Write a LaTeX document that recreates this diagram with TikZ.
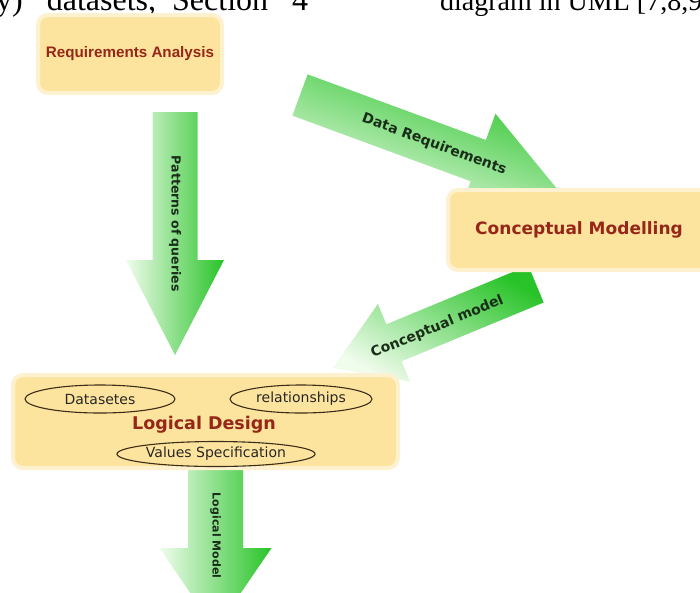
\documentclass[tikz,border=0pt]{standalone}
\usepackage{fontspec}
\setmainfont{DejaVu Sans}
\newfontfamily\paperfont{Liberation Serif}
\newfontfamily\narrowfont{Liberation Sans}
\usetikzlibrary{calc,shapes.geometric,backgrounds}

\definecolor{boxfill}{RGB}{253,228,158}
\definecolor{boxglow}{RGB}{254,241,208}
\definecolor{titlered}{RGB}{150,38,24}
\definecolor{arrowgreen}{RGB}{40,195,40}
\definecolor{arrowpale}{RGB}{240,252,236}
\definecolor{ovalline}{RGB}{60,45,25}
\definecolor{lbltext}{RGB}{25,45,25}

% fat arrow: [shading] {tail}{tip}{shaft half width}{head half width}{head length}
\newcommand\fatarrow[6][]{%
  \coordinate (#2-base) at ($(#3)!#6!(#2)$);
  \shade[arrowfill,#1] ($(#2)!#4!90:(#3)$) -- ($(#2-base)!#4!90:(#3)$)
    -- ($(#2-base)!#5!90:(#3)$) -- (#3) -- ($(#2-base)!#5!-90:(#3)$)
    -- ($(#2-base)!#4!-90:(#3)$) -- ($(#2)!#4!-90:(#3)$) -- cycle;
}

\begin{document}
\begin{tikzpicture}[x=1pt,y=-1pt,
  box/.style={rectangle, rounded corners=10pt, fill=boxfill, draw=boxglow,
    line width=4pt, outer sep=0pt, text=titlered},
  oval/.style={ellipse, draw=ovalline, line width=1.1pt, inner sep=0pt,
    font=\fontsize{14}{16}\selectfont, text=black!85},
  arrowfill/.style={top color=arrowgreen, bottom color=arrowpale},
  arrowlbl/.style={font=\bfseries\fontsize{#1}{#1}\selectfont, text=lbltext, inner sep=0pt},
  arrowlbl/.default=13,
  pagetxt/.style={anchor=base west, inner sep=0pt, font=\paperfont\fontsize{32}{38}\selectfont},
]
\useasboundingbox (0,0) rectangle (700,592);
\clip (0,0) rectangle (700,592);

%% cut-off line of the page above
\node[pagetxt] (pagel) at (-4,10) {y)\hspace{24pt}datasets,\hspace{16pt}Section\hspace{24pt}4};
\node[pagetxt, font=\paperfont\fontsize{28}{34}\selectfont] (pager) at (440,10) {diagram in UML [7,8,9,};

%% boxes
\node[box, minimum width=184, minimum height=78, font=\narrowfont\bfseries\fontsize{15.2}{17}\selectfont] (reqan) at (130,54) {Requirements Analysis};
\node[box, minimum width=262, minimum height=80, font=\bfseries\fontsize{17}{19}\selectfont] (conmod) at (579,230) {Conceptual Modelling};
\node[box, minimum width=385, minimum height=93] (logdes) at (205.5,421.5) {};
\node[text=titlered, font=\bfseries\fontsize{17.5}{20}\selectfont] (logtitle) at (204,425) {Logical Design};

%% inside Logical Design
\node[oval, minimum width=150, minimum height=28] (dsets) at (100,399) {Datasetes};
\node[oval, minimum width=142, minimum height=28] (rels) at (301,399) {relationships};
\node[oval, minimum width=196, minimum height=25] (vals) at (216,454) {Values Specification};

%% arrow ends
\coordinate (pqt) at ($(reqan.south)+(45,19)$);
\coordinate (pqh) at ($(logdes.north)+(-30.5,-20)$);
\coordinate (drt) at ($(reqan.south east)+(78,2)$);
\coordinate (drh) at ($(conmod.north west)+(110,0)$);
\coordinate (cmt) at ($(conmod.south west)+(88,14)$);
\coordinate (cmh) at ($(logdes.north east)+(-65,-7)$);
\coordinate (lmt) at ($(logdes.south)+(10,2)$);
\coordinate (lmh) at ($(logdes.south)+(10,162)$);

\begin{scope}[on background layer]
\clip (0,0) rectangle (700,592);
\fatarrow[shading angle=-90]{pqt}{pqh}{22.5pt}{49pt}{95pt}
\fatarrow[shading angle=-20]{drt}{drh}{22pt}{50pt}{85pt}
\fatarrow[shading angle=-30]{cmt}{cmh}{20pt}{42pt}{66pt}
\fatarrow[shading angle=-90]{lmt}{lmh}{27.5pt}{56pt}{82pt}
\end{scope}

%% arrow labels
\node[arrowlbl=12.5, rotate=-90] (pqlbl) at ($(pqt)!0.46!(pqh)$) {Patterns of queries};
\path (drt) -- (drh) node[arrowlbl=14, pos=0.52, sloped] (drlbl) {Data Requirements};
\path (cmt) -- (cmh) node[arrowlbl=14, pos=0.49, sloped, yshift=-2pt] (cmlbl) {Conceptual model};
\node[arrowlbl=11, rotate=-90] (lmlbl) at ($(lmt)!0.41!(lmh)$) {Logical Model};
\end{tikzpicture}
\end{document}
